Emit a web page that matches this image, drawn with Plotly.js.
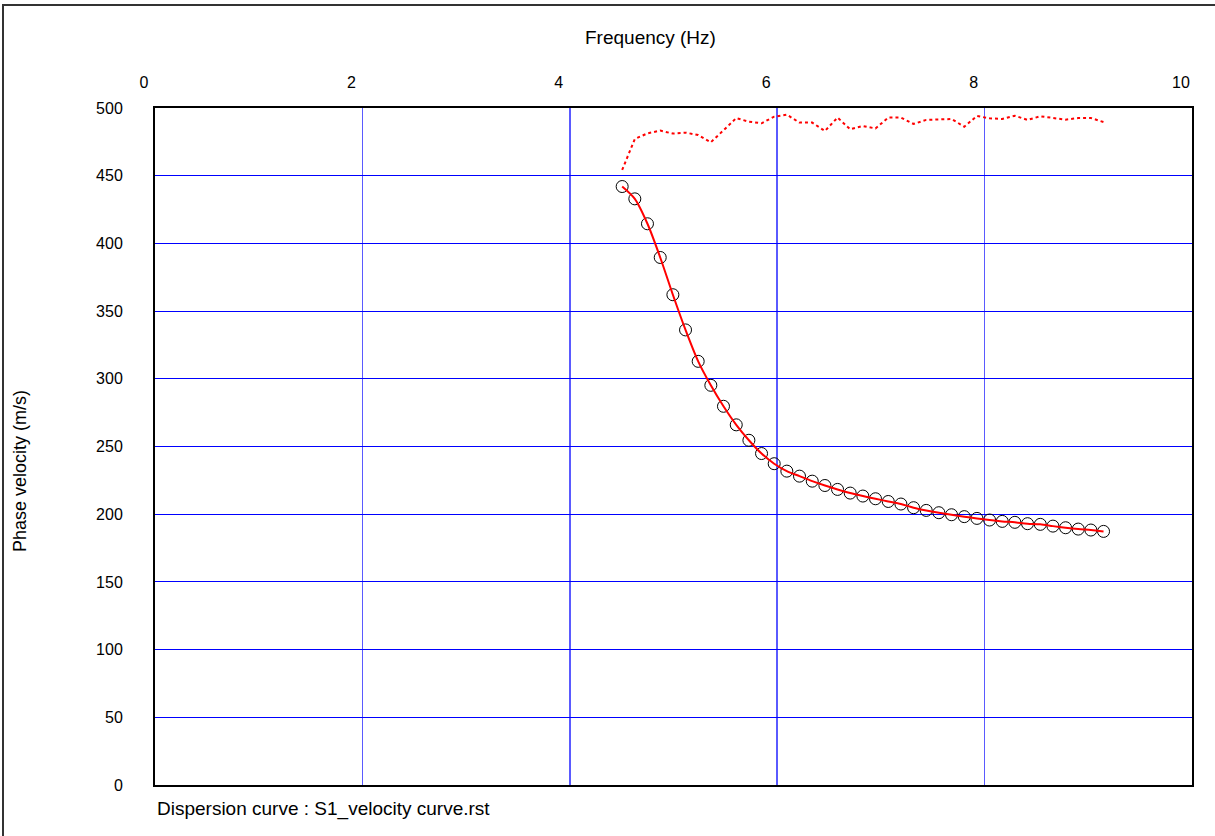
<!DOCTYPE html>
<html>
<head>
<meta charset="utf-8">
<script src="https://cdn.plot.ly/plotly-3.0.1.min.js"></script>
<style>
  html, body { margin: 0; padding: 0; background: #ffffff; }
  #chart { width: 1215px; height: 836px; }
</style>
</head>
<body>
<div id="chart"></div>
<script>
// Frequency samples (Hz) shared by the picked curve and the upper search bound
const frequency = [
  4.505, 4.627, 4.749, 4.872, 4.994, 5.116, 5.238, 5.360, 5.482, 5.605,
  5.727, 5.849, 5.971, 6.093, 6.215, 6.338, 6.460, 6.582, 6.704, 6.826,
  6.948, 7.071, 7.193, 7.315, 7.437, 7.559, 7.681, 7.804, 7.926, 8.048,
  8.170, 8.292, 8.414, 8.537, 8.659, 8.781, 8.903, 9.025, 9.147
];

// Picked phase velocities (m/s)
const phaseVelocity = [
  442.0, 432.9, 414.5, 389.6, 362.1, 336.1, 312.9, 295.2, 279.7, 266.0,
  254.6, 244.8, 237.3, 231.8, 228.1, 224.4, 221.2, 218.3, 215.6, 213.4,
  211.4, 209.4, 207.5, 204.8, 202.8, 201.1, 199.6, 198.2, 196.9, 195.7,
  194.7, 194.0, 193.0, 192.5, 191.2, 190.0, 189.0, 188.3, 187.3
];

// Upper velocity bound (m/s), dotted
const upperVelocity = [
  454.3, 477.1, 481.3, 483.3, 481.1, 481.8, 480.1, 474.7, 483.5, 492.6,
  489.9, 488.7, 493.6, 495.1, 489.2, 489.2, 483.0, 492.9, 484.3, 486.7,
  484.9, 492.9, 492.9, 488.2, 491.2, 491.4, 491.9, 486.2, 494.1, 492.4,
  491.9, 494.3, 491.2, 493.9, 492.9, 491.4, 492.6, 492.6, 489.6
];

const xTicks = [0, 2, 4, 6, 8, 10];
const yTicks = [0, 50, 100, 150, 200, 250, 300, 350, 400, 450, 500];

const FONT = 'Arial, "Liberation Sans", sans-serif';

const traces = [
  {
    x: frequency, y: upperVelocity, type: 'scatter', mode: 'lines',
    line: { color: '#ff0000', width: 2, dash: 'dot' },
    hoverinfo: 'x+y'
  },
  {
    x: frequency, y: phaseVelocity, type: 'scatter', mode: 'markers',
    marker: { symbol: 'circle-open', size: 12, color: '#000000', line: { width: 1, color: '#000000' } },
    hoverinfo: 'x+y'
  },
  {
    x: frequency, y: phaseVelocity, type: 'scatter', mode: 'lines',
    line: { color: '#ff0000', width: 2, shape: 'spline', smoothing: 0.8 },
    hoverinfo: 'skip'
  }
];

// pixel helpers for placing frame and text in paper coordinates
const L = 155, R = 23, T = 108, B = 51, W = 1215, H = 836;
const pw = W - L - R, ph = H - T - B;
const px = v => (v - L) / pw;
const py = v => (H - B - v) / ph;

const layout = {
  width: W, height: H,
  margin: { l: L, r: R, t: T, b: B, pad: 0 },
  paper_bgcolor: '#ffffff',
  plot_bgcolor: '#ffffff',
  showlegend: false,
  font: { family: FONT, size: 16, color: '#000000' },
  xaxis: {
    side: 'top',
    range: [0, 10],
    tickmode: 'array', tickvals: xTicks, ticktext: xTicks.map(String),
    ticks: '', ticklabelshift: -11, ticklabelstandoff: 12,
    tickfont: { family: FONT, size: 16, color: '#000000' },
    showgrid: true, gridcolor: 'rgb(90,90,255)', gridwidth: 1.5,
    zeroline: false,
    showline: true, linecolor: '#000000', linewidth: 2, mirror: true
  },
  yaxis: {
    range: [0, 500],
    tickmode: 'array', tickvals: yTicks, ticktext: yTicks.map(String),
    ticks: '', ticklabelstandoff: 27,
    tickfont: { family: FONT, size: 16, color: '#000000' },
    showgrid: true, gridcolor: '#0000ff', gridwidth: 1,
    zeroline: false,
    showline: true, linecolor: '#000000', linewidth: 2, mirror: true
  },
  shapes: [
    {
      type: 'rect', xref: 'paper', yref: 'paper', layer: 'below',
      x0: px(3), x1: px(1230), y0: py(850), y1: py(5),
      line: { color: '#333333', width: 2 }, fillcolor: 'rgba(0,0,0,0)'
    }
  ],
  annotations: [
    {
      text: 'Frequency (Hz)', xref: 'paper', yref: 'paper',
      x: px(650), y: py(37), xanchor: 'center', yanchor: 'middle',
      showarrow: false, font: { family: FONT, size: 19, color: '#000000' }
    },
    {
      text: 'Phase velocity (m/s)', xref: 'paper', yref: 'paper',
      x: px(20), y: py(471), xanchor: 'center', yanchor: 'middle', textangle: -90,
      showarrow: false, font: { family: FONT, size: 18, color: '#000000' }
    },
    {
      text: 'Dispersion curve : S1_velocity curve.rst', xref: 'paper', yref: 'paper',
      x: px(155), y: py(809), xanchor: 'left', yanchor: 'middle',
      showarrow: false, font: { family: FONT, size: 19, color: '#000000' }
    }
  ]
};

Plotly.newPlot('chart', traces, layout, { displayModeBar: false, staticPlot: true });
</script>
</body>
</html>
